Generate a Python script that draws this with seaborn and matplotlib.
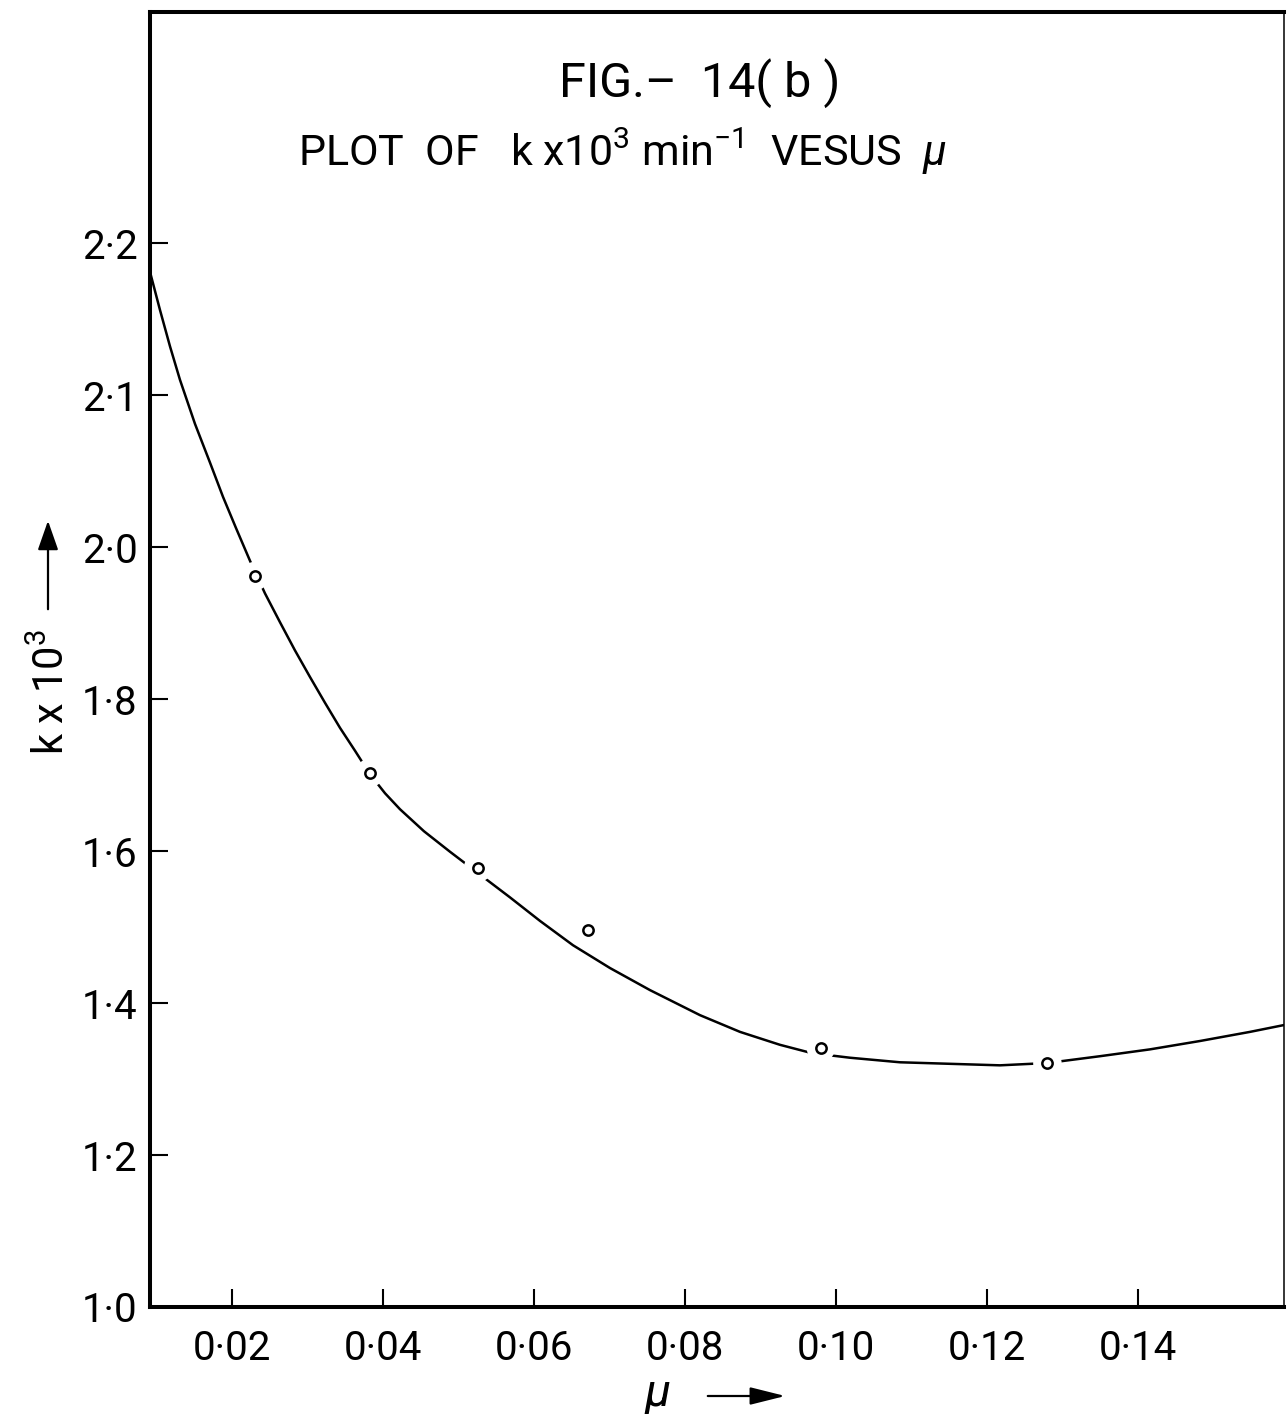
import numpy as np
import pandas as pd
import matplotlib
matplotlib.use("Agg")
import matplotlib.pyplot as plt
import seaborn as sns

# ---- data (y in axis-scale units) ----
mu_points = [0.0231, 0.0383, 0.0526, 0.0672, 0.0980, 0.1280]
k_points = [1.962, 1.703, 1.578, 1.496, 1.341, 1.321]

mu_curve = [0.00914, 0.01046, 0.01179, 0.01311, 0.01510, 0.01709, 0.01881,
            0.02053, 0.02238, 0.02437, 0.02636, 0.02834, 0.03033, 0.03232,
            0.03431, 0.03629, 0.03828, 0.04027, 0.04225, 0.04543, 0.04888,
            0.05258, 0.05682, 0.06080, 0.06517, 0.07007, 0.07536, 0.08199,
            0.08729, 0.09258, 0.09682, 0.10185, 0.10848, 0.11510, 0.12172,
            0.12795, 0.13497, 0.14159, 0.14821, 0.15483, 0.15934]
k_curve = [2.362, 2.312, 2.264, 2.220, 2.162, 2.111, 2.066,
           2.025, 1.982, 1.939, 1.901, 1.864, 1.829, 1.795,
           1.762, 1.732, 1.701, 1.676, 1.655, 1.626, 1.599,
           1.571, 1.539, 1.508, 1.476, 1.446, 1.417, 1.384,
           1.362, 1.345, 1.334, 1.328, 1.322, 1.320, 1.318,
           1.321, 1.330, 1.339, 1.350, 1.362, 1.371]

x_ticks = [0.02, 0.04, 0.06, 0.08, 0.10, 0.12, 0.14]
x_ticklabels = ["0·02", "0·04", "0·06", "0·08", "0·10", "0·12", "0·14"]
y_ticks = [1.0, 1.2, 1.4, 1.6, 1.8, 2.0, 2.2, 2.4]
y_ticklabels = ["1·0", "1·2", "1·4", "1·6", "1·8", "2·0", "2·1", "2·2"]

title1 = "FIG.–  14( b )"
title2 = r"PLOT  OF   k x10$^{3}$ min$^{-1}$  VESUS  $\mathit{\mu}$"
ylabel = r"k x 10$^{3}$"
xlabel = "μ"

# ---- style ----
sns.set_theme(style="white")
plt.rcParams["font.family"] = ["Roboto", "DejaVu Sans"]
plt.rcParams["font.weight"] = "normal"
plt.rcParams["mathtext.fontset"] = "custom"
plt.rcParams["mathtext.rm"] = "Roboto"
plt.rcParams["mathtext.it"] = "Roboto:italic"
plt.rcParams["mathtext.bf"] = "Roboto:bold"

fig = plt.figure(figsize=(12.87, 14.14), dpi=100)
ax = fig.add_axes([150 / 1287, 107 / 1414, 1134 / 1287, 1295 / 1414])

curve_df = pd.DataFrame({"mu": mu_curve, "k": k_curve})
pts_df = pd.DataFrame({"mu": mu_points, "k": k_points})

sns.lineplot(data=curve_df, x="mu", y="k", ax=ax, color="black",
             linewidth=1.8, sort=False, zorder=2)
# white halo to break the line around each point
sns.scatterplot(data=pts_df, x="mu", y="k", ax=ax, s=420, color="white",
                edgecolor="none", zorder=3)
sns.scatterplot(data=pts_df, x="mu", y="k", ax=ax, s=55, facecolor="white",
                edgecolor="black", linewidth=1.8, zorder=4)

ax.set_xlim(0.00914, 0.15934)
ax.set_ylim(1.0, 2.704)

ax.set_xticks(x_ticks)
ax.set_xticklabels(x_ticklabels)
ax.set_yticks(y_ticks)
ax.set_yticklabels(y_ticklabels)
ax.tick_params(axis="both", which="major", direction="in", length=13,
               width=1.5, color="black", labelsize=29, labelcolor="black",
               bottom=True, left=True, top=False, right=False)
ax.tick_params(axis="x", pad=16)
ax.tick_params(axis="y", pad=9)

ax.set_xlabel("")
ax.set_ylabel("")

for side in ["left", "bottom", "top"]:
    ax.spines[side].set_linewidth(2.9)
    ax.spines[side].set_color("black")
ax.spines["right"].set_linewidth(1.1)
ax.spines["right"].set_color("black")

# ---- titles ----
fig.text(700 / 1287, 1 - 83 / 1414, title1, ha="center", va="center",
         fontsize=35, color="black")
fig.text(298 / 1287, 1 - 152 / 1414, title2, ha="left", va="center",
         fontsize=31, color="black")

# ---- axis labels with arrows ----
fig.text(52 / 1287, 1 - 692 / 1414, ylabel, rotation=90, ha="center",
         va="center", fontsize=30, color="black")
fig.patches.append(matplotlib.patches.FancyArrowPatch(
    (48 / 1287, 1 - 612 / 1414), (48 / 1287, 1 - 518 / 1414),
    transform=fig.transFigure, arrowstyle="-|>,head_length=1.0,head_width=0.35",
    mutation_scale=18, color="black", linewidth=1.6))

fig.text(658 / 1287, 1 - 1393 / 1414, xlabel, ha="center", va="center",
         fontsize=34, style="italic", color="black")
fig.patches.append(matplotlib.patches.FancyArrowPatch(
    (705 / 1287, 1 - 1396 / 1414), (788 / 1287, 1 - 1396 / 1414),
    transform=fig.transFigure, arrowstyle="-|>,head_length=1.2,head_width=0.3",
    mutation_scale=18, color="black", linewidth=1.6))

fig.savefig("out.png", dpi=100, facecolor="white")
